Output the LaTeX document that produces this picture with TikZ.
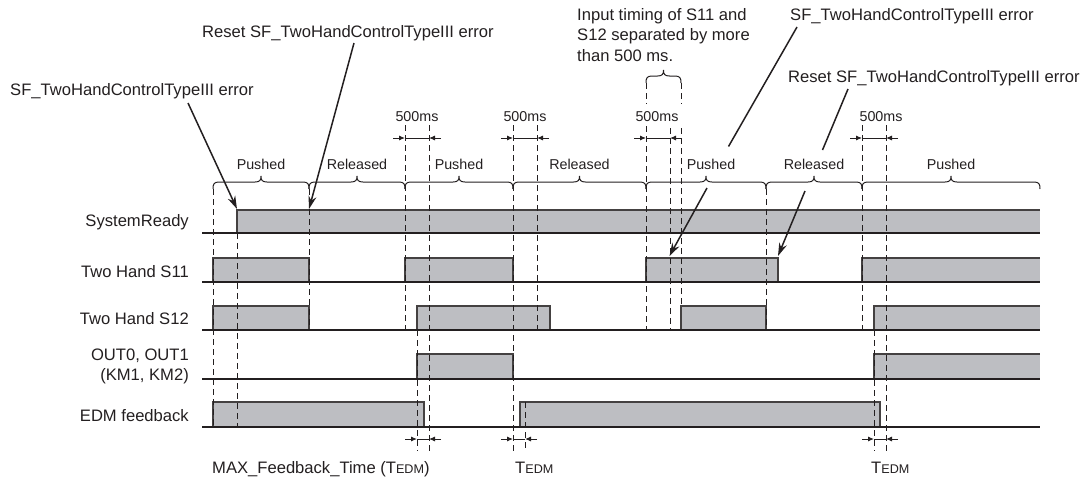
\documentclass[tikz,border=0pt]{standalone}
\usepackage{fontspec}
\setmainfont{Liberation Sans}
\usetikzlibrary{arrows.meta}
\definecolor{ink}{RGB}{35,31,32}
\definecolor{pulsegray}{RGB}{189,190,194}
\newcommand\tbrace[4]{% x1, x2, y of horizontal, y of ends
  \pgfmathsetmacro\brmid{(#1+#2)/2}
  \draw[brc] (#1,#4) .. controls (#1,#3+2) and (#1+1,#3) .. (#1+6,#3)
    -- (\brmid-6,#3) .. controls (\brmid-1,#3) and (\brmid,#3-2) .. (\brmid,#3-6)
    .. controls (\brmid,#3-2) and (\brmid+1,#3) .. (\brmid+6,#3)
    -- (#2-6,#3) .. controls (#2-1,#3) and (#2,#3+2) .. (#2,#4);
}
\newcommand\tedm{T{\fontsize{12.6}{14}\selectfont EDM}}
\tikzset{
  every node/.style={inner sep=0pt, text=ink},
  big/.style={font=\fontsize{16.6}{20.8}\selectfont},
  small/.style={font=\fontsize{14.3}{17}\selectfont},
  baseln/.style={draw=ink, line width=1.5pt},
  wave/.style={draw=ink!85, fill=pulsegray, line width=1.2pt},
  guide/.style={draw=ink, line width=1pt, dash pattern=on 6pt off 4pt},
  brc/.style={draw=ink, line width=1pt},
  callout/.style={draw=ink, line width=1.5pt, -{Stealth[length=13pt,width=8pt]}},
  callline/.style={draw=ink, line width=1.5pt},
  dimarrow/.style={draw=ink, line width=0.9pt, -{Latex[length=6pt,width=5pt]}},
  dimline/.style={draw=ink, line width=0.9pt},
}
\begin{document}
\begin{tikzpicture}[x=1pt,y=-1pt]
\useasboundingbox (0,0) rectangle (1087,480);

% ---------- waveforms: fills ----------
\fill[pulsegray] (237,210) rectangle (1040,233);
\draw[wave] (237,233) -- (237,210) -- (1040,210);
% S11
\draw[wave] (213,282) -- (213,258) -- (309,258) -- (309,282);
\draw[wave] (405,282) -- (405,258) -- (513,258) -- (513,282);
\draw[wave] (646,282) -- (646,258) -- (778,258) -- (778,282);
\fill[pulsegray] (862,258) rectangle (1040,282);
\draw[wave] (862,282) -- (862,258) -- (1040,258);
% S12
\draw[wave] (213,330) -- (213,306) -- (309,306) -- (309,330);
\draw[wave] (417,330) -- (417,306) -- (550,306) -- (550,330);
\draw[wave] (681,330) -- (681,306) -- (766,306) -- (766,330);
\fill[pulsegray] (874,306) rectangle (1040,330);
\draw[wave] (874,330) -- (874,306) -- (1040,306);
% OUT
\draw[wave] (417,379) -- (417,354) -- (513,354) -- (513,379);
\fill[pulsegray] (874,354) rectangle (1040,379);
\draw[wave] (874,379) -- (874,354) -- (1040,354);
% EDM
\draw[wave] (213,427) -- (213,402) -- (424,402) -- (424,427);
\draw[wave] (520,427) -- (520,402) -- (880,402) -- (880,427);

% ---------- baselines ----------
\draw[baseln] (202,233) -- (1040,233);
\draw[baseln] (202,282) -- (1040,282);
\draw[baseln] (202,330) -- (1040,330);
\draw[baseln] (202,379) -- (1040,379);
\draw[baseln] (202,427) -- (1040,427);

% ---------- signal labels ----------
\node[big, anchor=base east] (lsr)  at (189,226) {SystemReady};
\node[big, anchor=base east] (ls11) at (189,277) {Two Hand S11};
\node[big, anchor=base east] (ls12) at (189,324.5) {Two Hand S12};
\node[big, anchor=base east] (lout) at (189,360) {OUT0, OUT1};
\node[big, anchor=base east] (lkm)  at (189,380) {(KM1, KM2)};
\node[big, anchor=base east] (ledm) at (189,421) {EDM feedback};

% ---------- dashed guides ----------
\draw[guide] (213,189) -- (213,427);
\draw[guide] (237,233) -- (237,427);
\draw[guide] (309,189) -- (309,330);
\draw[guide] (405,125) -- (405,330);
\draw[guide] (429,125) -- (429,451);
\draw[guide] (417,330) -- (417,451);
\draw[guide] (513,125) -- (513,451);
\draw[guide] (537,125) -- (537,330);
\draw[guide] (525,402) -- (525,451);
\draw[guide] (646,83) -- (646,104);
\draw[guide] (646,126) -- (646,330);
\draw[guide] (670,128) -- (670,330);
\draw[guide] (681,83) -- (681,104);
\draw[guide] (681,128) -- (681,306);
\draw[guide] (766,189) -- (766,330);
\draw[guide] (862,125) -- (862,330);
\draw[guide] (886,125) -- (886,451);
\draw[guide] (874,330) -- (874,451);

% ---------- braces ----------
\tbrace{213}{309}{182}{189}
\tbrace{309}{405}{182}{189}
\tbrace{405}{513}{182}{189}
\tbrace{513}{646}{182}{189}
\tbrace{646}{766}{182}{189}
\tbrace{766}{862}{182}{189}
\tbrace{862}{1040}{182}{189}
\tbrace{646}{681}{76}{83}

% ---------- brace labels ----------
\node[small, anchor=base] (p1) at (261,169) {Pushed};
\node[small, anchor=base] (r1) at (357,169) {Released};
\node[small, anchor=base] (p2) at (459,169) {Pushed};
\node[small, anchor=base] (r2) at (579.5,169) {Released};
\node[small, anchor=base] (p3) at (711,169) {Pushed};
\node[small, anchor=base] (r3) at (814,169) {Released};
\node[small, anchor=base] (p4) at (951,169) {Pushed};

% ---------- 500ms dimensions ----------
\node[small, anchor=base] (m1) at (417,121.5) {500ms};
\node[small, anchor=base] (m2) at (525,121.5) {500ms};
\node[small, anchor=base] (m3) at (657,121.5) {500ms};
\node[small, anchor=base] (m4) at (881,121.5) {500ms};
\foreach \xa/\xb/\na in {405/429/a, 513/537/b, 646/670/c, 862/886/d}{
  \coordinate (d\na l) at (\xa,138);
  \coordinate (d\na r) at (\xb,138);
  \coordinate (d\na lo) at (\xa-12,138);
  \coordinate (d\na ro) at (\xb+12,138);
  \draw[dimline] (d\na l) -- (d\na r);
  \draw[dimarrow] (d\na lo) -- (d\na l);
  \draw[dimarrow] (d\na ro) -- (d\na r);
}

% ---------- TEDM dimensions ----------
\foreach \xa/\xb/\na in {417/429/a, 513/525/b, 874/886/c}{
  \coordinate (t\na l) at (\xa,439);
  \coordinate (t\na r) at (\xb,439);
  \coordinate (t\na lo) at (\xa-12,439);
  \coordinate (t\na ro) at (\xb+12,439);
  \draw[dimline] (t\na l) -- (t\na r);
  \draw[dimarrow] (t\na lo) -- (t\na l);
  \draw[dimarrow] (t\na ro) -- (t\na r);
}
\node[big, anchor=base west] (tmax) at (212,473) {MAX\_Feedback\_Time (\tedm)};
\node[big, anchor=base west] (t2) at (515,473) {\tedm};
\node[big, anchor=base west] (t3) at (871,473) {\tedm};

% ---------- annotations ----------
\node[big, anchor=base west] (e1) at (10,95) {SF\_TwoHandControlTypeIII error};
\node[big, anchor=base west] (e2) at (202,37) {Reset SF\_TwoHandControlTypeIII error};
\node[big, anchor=base west, align=left] (e3) at (577,61.7)
  {Input timing of S11 and\\S12 separated by more\\than 500 ms.};
\node[big, anchor=base west] (e4) at (790,20.5) {SF\_TwoHandControlTypeIII error};
\node[big, anchor=base west] (e5) at (788,82.5) {Reset SF\_TwoHandControlTypeIII error};

\coordinate (a1s) at (188,103);
\coordinate (a1e) at (237,209);
\draw[callout] (a1s) -- (a1e);
\coordinate (a2s) at (354,43);
\coordinate (a2e) at (309,209);
\draw[callout] (a2s) -- (a2e);

\coordinate (a3s) at (797,27);
\coordinate (a3m) at (728.5,146.5);
\coordinate (a3n) at (707,188);
\coordinate (a3e) at (669.5,256);
\draw[callline] (a3s) -- (a3m);
\draw[callout] (a3n) -- (a3e);

\coordinate (a4s) at (848,89);
\coordinate (a4m) at (822.5,150);
\coordinate (a4n) at (805,191);
\coordinate (a4e) at (778,256);
\draw[callline] (a4s) -- (a4m);
\draw[callout] (a4n) -- (a4e);
\end{tikzpicture}
\end{document}
